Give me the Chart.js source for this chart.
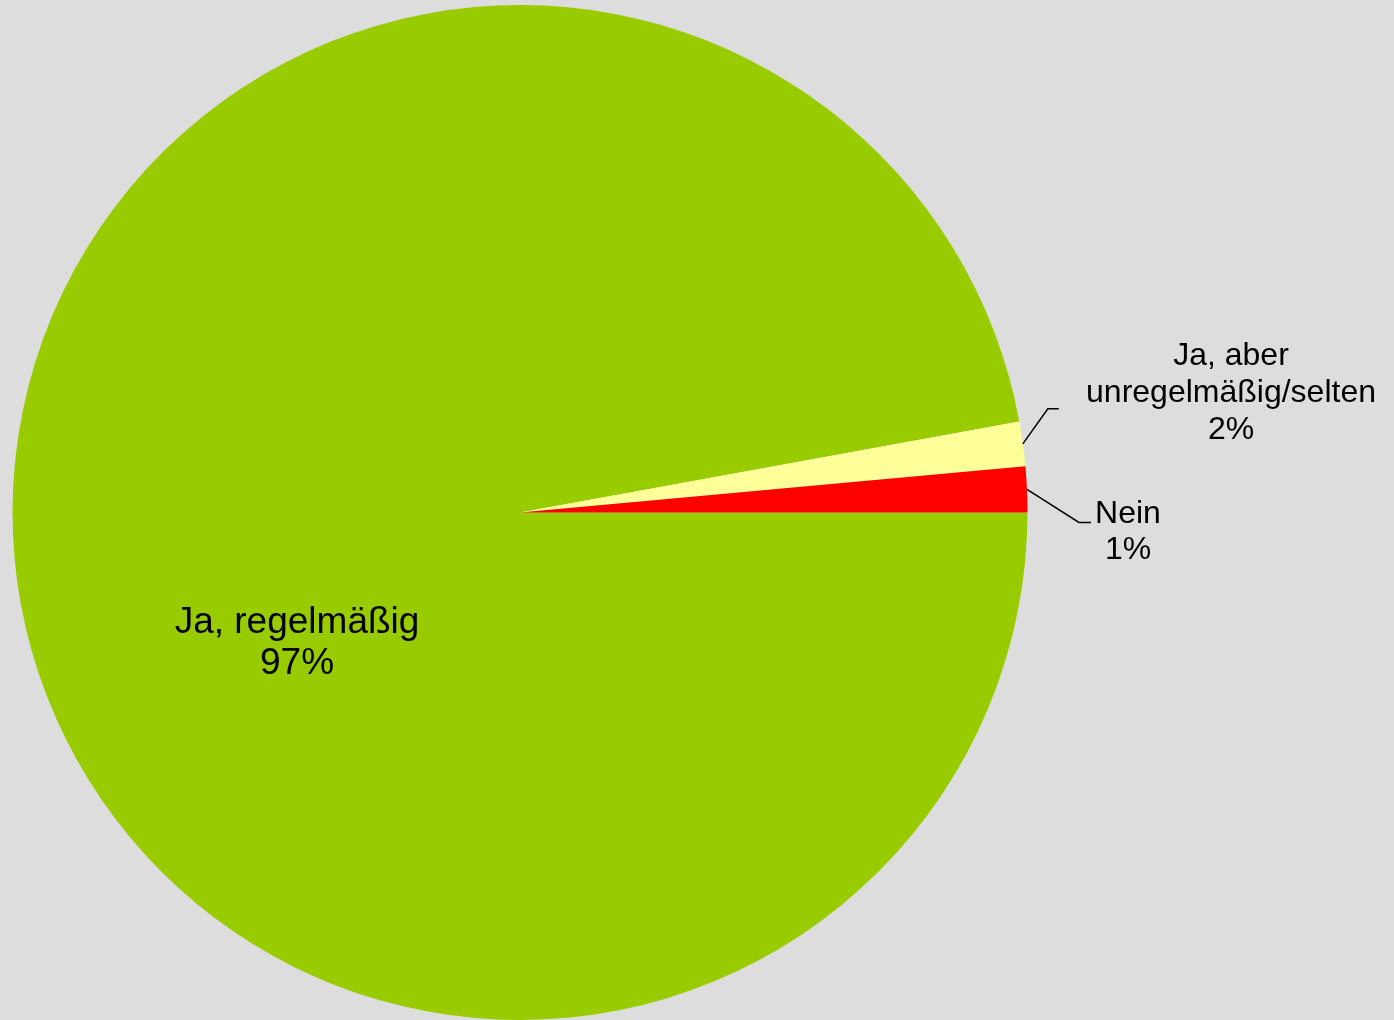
<!DOCTYPE html>
<html>
<head>
<meta charset="utf-8">
<script src="https://cdn.jsdelivr.net/npm/chart.js@4/dist/chart.umd.min.js"></script>
<style>
  html, body { margin: 0; padding: 0; background: #DDDDDD; }
  #wrap { width: 1394px; height: 1020px; }
</style>
</head>
<body>
<div id="wrap"><canvas id="c" width="1394" height="1020"></canvas></div>
<script>
const categories = ["Ja, regelmäßig", "Ja, aber unregelmäßig/selten", "Nein"];
const values = [97.13, 1.42, 1.45];
const percentLabels = ["97%", "2%", "1%"];
const labelLines = [["Ja, regelmäßig", "97%"], ["Ja, aber", "unregelmäßig/selten", "2%"], ["Nein", "1%"]];
const colors = ["#99CC00", "#FFFF99", "#FF0000"];

const bgPlugin = {
  id: 'bg',
  beforeDraw(chart) {
    const ctx = chart.ctx;
    ctx.save();
    ctx.fillStyle = '#DDDDDD';
    ctx.fillRect(0, 0, chart.width, chart.height);
    ctx.restore();
  }
};

const labelPlugin = {
  id: 'labels',
  afterDraw(chart) {
    const ctx = chart.ctx;
    const meta = chart.getDatasetMeta(0);
    ctx.save();
    ctx.fillStyle = '#000000';
    ctx.textAlign = 'center';
    ctx.textBaseline = 'middle';

    ctx.font = '37px "Liberation Sans", Arial, sans-serif';
    const l0 = labelLines[0];
    ctx.fillText(l0[0], 297, 623);
    ctx.fillText(l0[1], 297, 664);

    ctx.strokeStyle = '#000000';
    ctx.lineWidth = 1.5;
    function edgePoint(i) {
      const a = meta.data[i];
      const p = a.getProps(['x', 'y', 'startAngle', 'endAngle', 'outerRadius'], true);
      const mid = (p.startAngle + p.endAngle) / 2;
      return { x: p.x + Math.cos(mid) * p.outerRadius, y: p.y + Math.sin(mid) * p.outerRadius };
    }
    const e1 = edgePoint(1);
    ctx.beginPath();
    ctx.moveTo(e1.x, e1.y);
    ctx.lineTo(e1.x + 25, e1.y - 35);
    ctx.lineTo(e1.x + 36, e1.y - 35);
    ctx.stroke();

    const e2 = edgePoint(2);
    ctx.beginPath();
    ctx.moveTo(e2.x, e2.y);
    ctx.lineTo(e2.x + 52, e2.y + 33);
    ctx.lineTo(e2.x + 64, e2.y + 33);
    ctx.stroke();

    ctx.font = '32px "Liberation Sans", Arial, sans-serif';
    const l1 = labelLines[1];
    ctx.fillText(l1[0], 1231, 356);
    ctx.fillText(l1[1], 1231, 393);
    ctx.fillText(l1[2], 1231, 430);

    const l2 = labelLines[2];
    ctx.fillText(l2[0], 1128, 514);
    ctx.fillText(l2[1], 1128, 550);
    ctx.restore();
  }
};

new Chart(document.getElementById('c'), {
  type: 'pie',
  data: {
    labels: categories,
    datasets: [{
      data: values,
      backgroundColor: colors,
      borderWidth: 0,
      hoverOffset: 0
    }]
  },
  options: {
    responsive: false,
    animation: false,
    rotation: 90,
    layout: { padding: { left: 12, top: 5, right: 366, bottom: 0 } },
    plugins: {
      legend: { display: false },
      tooltip: { enabled: false }
    }
  },
  plugins: [bgPlugin, labelPlugin]
});
</script>
</body>
</html>
